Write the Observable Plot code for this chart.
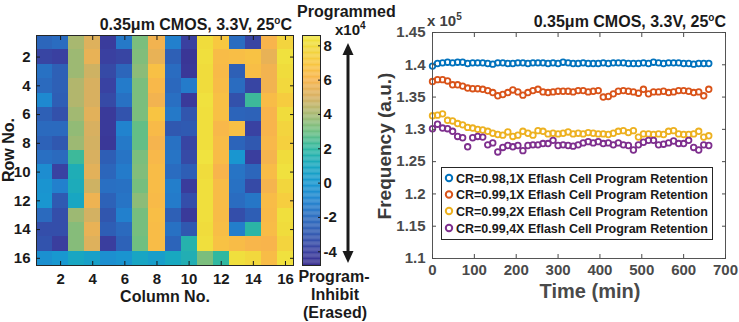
<!DOCTYPE html>
<html><head><meta charset="utf-8">
<script src="https://cdn.jsdelivr.net/npm/d3@7"></script>
<script src="https://cdn.jsdelivr.net/npm/@observablehq/plot@0.6"></script>
<style>
body{margin:0;background:#fff;}
#root{position:relative;width:739px;height:322px;overflow:hidden;background:#fff;}
#root svg{position:absolute;left:0;top:0;}
</style></head><body><div id="root"></div>
<script>
// ---------- Heatmap data ----------
const colTicks = [2, 4, 6, 8, 10, 12, 14, 16];
const rowTicks = [2, 4, 6, 8, 10, 12, 14, 16];
const colorbarTicks = [-4, -2, 0, 2, 4, 6, 8];
const colorDomain = [-4.8, 8.6]; // x10^4
const heatRows = [
  [-2.3,-2.0,4.0,5.2,-4.2,-1.5,3.2,5.8,-1.2,-4.0,8.0,7.0,-2.0,-3.8,6.0,7.6],
  [-3.8,-4.0,3.8,5.5,-4.0,-3.8,3.3,5.5,-2.6,-4.5,8.2,6.4,6.5,6.7,5.5,8.3],
  [-1.8,-2.6,3.8,4.8,-3.6,-2.3,3.5,6.6,-2.0,-4.4,8.0,6.3,-2.6,6.5,5.8,8.0],
  [-2.1,-2.6,4.2,5.0,-3.9,-1.4,3.2,6.2,-2.2,-1.4,8.0,6.4,-2.0,-3.8,5.8,7.8],
  [-0.8,-2.7,4.2,5.0,-3.6,-1.8,3.2,5.8,-1.9,-4.3,8.3,6.6,-3.3,2.2,6.4,7.2],
  [-2.6,-3.3,3.9,5.3,-4.3,-3.2,3.2,6.8,-1.5,-3.1,8.2,6.6,-2.4,-2.5,6.0,8.0],
  [-2.1,-2.1,3.6,5.0,-4.3,-1.1,2.8,6.3,-3.0,-2.9,8.2,6.2,6.6,-3.9,6.0,7.6],
  [-2.5,-3.0,3.8,4.9,-4.4,-1.5,2.8,5.9,-1.8,-3.8,8.2,6.4,-2.4,-3.0,6.2,7.4],
  [-1.9,-2.1,2.2,5.0,-2.7,-1.7,3.2,6.2,-1.7,-3.6,8.4,6.4,-0.1,-4.1,5.9,8.0],
  [-0.6,-3.9,1.3,5.3,-2.3,-1.4,3.3,6.4,-2.0,-2.7,8.0,6.0,-1.7,-2.3,6.4,8.3],
  [-0.2,-1.2,1.2,4.8,-1.9,-1.8,3.1,6.4,-1.3,-4.2,8.2,6.4,-1.8,-3.6,5.9,7.7],
  [-0.1,-2.9,0.9,5.7,-2.5,-1.7,3.5,6.3,-1.4,-3.4,8.2,6.4,-2.0,-1.6,6.4,7.3],
  [-2.1,-3.4,3.8,4.9,-3.1,-1.2,3.1,6.5,-2.6,-4.3,8.2,6.4,-3.4,-2.7,6.3,8.2],
  [-3.4,-3.4,3.4,5.5,-2.7,-2.1,3.1,6.4,-1.8,-3.0,8.0,6.5,-1.3,1.8,6.4,8.0],
  [-3.2,-4.1,3.4,5.2,-4.1,-2.5,3.0,6.4,-2.4,1.6,8.2,6.7,6.4,6.1,6.0,7.6],
  [-0.4,0.0,0.9,0.5,-0.5,-0.2,0.8,0.4,1.0,1.4,3.2,2.0,8.2,7.8,6.4,8.3]
];
// colormap stops (parula-like, as it appears in the figure)
const cmapValues = [-4.8, -4, -3, -2, -1, 0, 1, 2, 3, 4, 5, 6, 7, 8, 8.6];
const cmapColors = ["#3a3090","#3a40a0","#3058b0","#2a6cc0","#2085d0","#1898d0","#18a8c0","#30b8a0","#70bf80","#a8b870","#d8b060","#f8b44c","#f8c840","#f0dc3c","#f0e640"];

// ---------- Retention data ----------
const timeTicks = [0, 100, 200, 300, 400, 500, 600, 700];
const freqTicks = [1.1, 1.15, 1.2, 1.25, 1.3, 1.35, 1.4, 1.45];
const timeMin = [0,12,24,36,48,60,72,84,96,108,120,132,144,156,168,180,192,204,216,228,240,252,264,276,288,300,312,324,336,348,360,372,384,396,408,420,432,444,456,468,480,492,504,516,528,540,552,564,576,588,600,612,624,636,648,660];
const seriesNames = [
  "CR=0.98,1X Eflash Cell Program Retention",
  "CR=0.99,1X Eflash Cell Program Retention",
  "CR=0.99,2X Eflash Cell Program Retention",
  "CR=0.99,4X Eflash Cell Program Retention"
];
const seriesColors = ["#0072BD", "#D95319", "#EDB120", "#7E2F8E"];
const cr098x1 = [1.398,1.402,1.403,1.404,1.403,1.404,1.404,1.402,1.403,1.403,1.403,1.402,1.401,1.403,1.403,1.402,1.402,1.403,1.403,1.402,1.403,1.403,1.403,1.402,1.403,1.402,1.404,1.403,1.402,1.402,1.403,1.402,1.402,1.402,1.403,1.402,1.403,1.403,1.403,1.402,1.402,1.402,1.403,1.402,1.404,1.403,1.402,1.403,1.403,1.403,1.402,1.402,1.401,1.402,1.402,1.402];
const cr099x1 = [1.374,1.377,1.377,1.375,1.369,1.369,1.367,1.364,1.363,1.363,1.362,1.360,1.357,1.352,1.354,1.357,1.361,1.358,1.353,1.357,1.360,1.362,1.358,1.357,1.358,1.359,1.359,1.359,1.358,1.360,1.360,1.358,1.359,1.360,1.350,1.351,1.355,1.359,1.360,1.359,1.358,1.356,1.362,1.355,1.358,1.358,1.359,1.357,1.358,1.360,1.360,1.359,1.357,1.358,1.352,1.362];
const cr099x2 = [1.321,1.322,1.324,1.314,1.313,1.309,1.307,1.303,1.302,1.300,1.299,1.297,1.294,1.292,1.291,1.296,1.289,1.291,1.297,1.294,1.291,1.298,1.297,1.293,1.294,1.293,1.294,1.296,1.293,1.294,1.293,1.295,1.294,1.293,1.293,1.292,1.294,1.297,1.298,1.295,1.298,1.288,1.293,1.293,1.292,1.293,1.292,1.297,1.298,1.293,1.292,1.292,1.293,1.297,1.288,1.290];
const cr099x4 = [1.301,1.308,1.302,1.301,1.297,1.289,1.287,1.273,1.287,1.289,1.288,1.276,1.279,1.265,1.272,1.275,1.273,1.275,1.267,1.275,1.276,1.276,1.278,1.278,1.283,1.275,1.276,1.275,1.274,1.276,1.279,1.281,1.279,1.281,1.278,1.279,1.276,1.279,1.276,1.275,1.268,1.276,1.280,1.283,1.283,1.276,1.277,1.279,1.282,1.278,1.278,1.283,1.272,1.268,1.276,1.275];

// ---------- build ----------
const W = 739, H = 322;
const FONT = "'Liberation Sans', Arial, sans-serif";
const cmapScale = d3.scaleLinear().domain(cmapValues).range(cmapColors).interpolate(d3.interpolateRgb).clamp(true);
const cmap = t => cmapScale(colorDomain[0] + t * (colorDomain[1] - colorDomain[0]));
const colorOpts = {type: "linear", domain: colorDomain, interpolate: cmap};
const baseStyle = (color) => ({background: "transparent", fontFamily: FONT, fontSize: "15px", fontWeight: "bold", color, overflow: "visible"});
const plain = d => String(d);

const cells = heatRows.flatMap((r, i) => r.map((v, j) => ({row: i + 1, col: j + 1, value: v})));

const heatPlot = Plot.plot({
  width: W, height: H,
  marginLeft: 36, marginRight: W - 293, marginTop: 35, marginBottom: H - 265,
  style: baseStyle("#1a1a1a"),
  x: {domain: [0.5, 16.5]},
  y: {domain: [0.5, 16.5], reverse: true},
  color: colorOpts,
  marks: [
    Plot.rect(cells, {x1: d => d.col - 0.5, x2: d => d.col + 0.5, y1: d => d.row - 0.5, y2: d => d.row + 0.5, fill: "value", shapeRendering: "crispEdges"}),
    Plot.frame({stroke: "#262626"}),
    Plot.axisX(colTicks, {anchor: "bottom", tickSize: -4, tickPadding: 12, tickFormat: plain, label: null}),
    Plot.axisX(colTicks, {anchor: "top", tickSize: -4, tickFormat: () => "", label: null}),
    Plot.axisY(rowTicks, {anchor: "left", tickSize: -4, tickPadding: 10, tickFormat: plain, label: null}),
    Plot.axisY(rowTicks, {anchor: "right", tickSize: -4, tickFormat: () => "", label: null})
  ]
});

const cbSteps = d3.range(colorDomain[0], colorDomain[1], 0.05);
const cbPlot = Plot.plot({
  width: W, height: H,
  marginLeft: 302, marginRight: W - 320, marginTop: 35, marginBottom: H - 265,
  style: baseStyle("#1a1a1a"),
  x: {domain: [0, 1], axis: null},
  y: {domain: colorDomain},
  color: colorOpts,
  marks: [
    Plot.rect(cbSteps, {x1: 0, x2: 1, y1: d => d, y2: d => Math.min(d + 0.06, colorDomain[1]), fill: d => d}),
    Plot.frame({stroke: "#262626"}),
    Plot.axisY(colorbarTicks, {anchor: "right", tickSize: -3, tickPadding: 6, tickFormat: plain, label: null})
  ]
});

const seriesValues = [cr098x1, cr099x1, cr099x2, cr099x4];
const points = seriesValues.flatMap((vals, k) => vals.map((v, i) => ({t: timeMin[i], f: v, s: seriesNames[k]})));
const fmt = d => String(+d.toFixed(2));
const retPlot = Plot.plot({
  width: W, height: H,
  marginLeft: 432, marginRight: W - 725, marginTop: 32, marginBottom: H - 258,
  style: baseStyle("#4a4a4a"),
  x: {domain: [0, 700]},
  y: {domain: [1.1, 1.45]},
  color: {domain: seriesNames, range: seriesColors},
  marks: [
    Plot.dot(points, {x: "t", y: "f", stroke: "s", r: 2.8, strokeWidth: 1.8, fill: "none"}),
    Plot.frame({stroke: "#555"}),
    Plot.axisX(timeTicks, {anchor: "bottom", tickSize: -4, tickPadding: 10, tickFormat: plain, label: null}),
    Plot.axisX(timeTicks, {anchor: "top", tickSize: -4, tickFormat: () => "", label: null}),
    Plot.axisY(freqTicks, {anchor: "left", tickSize: -4, tickPadding: 11, tickFormat: fmt, label: null}),
    Plot.axisY(freqTicks, {anchor: "right", tickSize: -4, tickFormat: () => "", label: null})
  ]
});

const root = document.getElementById("root");
root.append(heatPlot, cbPlot, retPlot);

// ---------- annotations ----------
const ov = d3.select(root).append("svg").attr("width", W).attr("height", H)
  .style("font-family", FONT).style("font-weight", "bold");
function txt(x, y, str, size, anchor, fill) {
  return ov.append("text").attr("x", x).attr("y", y).attr("font-size", size)
    .attr("text-anchor", anchor || "start").attr("fill", fill || "#1a1a1a").text(str);
}
function titleWithDeg(xEnd, y) {
  const t = ov.append("text").attr("x", xEnd).attr("y", y).attr("font-size", 16)
    .attr("text-anchor", "end").attr("fill", "#1a1a1a");
  t.append("tspan").text("0.35μm CMOS, 3.3V, 25");
  t.append("tspan").attr("dy", -6).attr("font-size", 10).text("o");
  t.append("tspan").attr("dy", 6).text("C");
}
titleWithDeg(292, 30);
titleWithDeg(726, 27);
txt(297, 17, "Programmed", 16);
{
  const t = ov.append("text").attr("x", 335).attr("y", 35).attr("font-size", 15).attr("fill", "#1a1a1a");
  t.append("tspan").text("x10");
  t.append("tspan").attr("dy", -6).attr("font-size", 10).text("4");
}
// double-headed arrow
ov.append("line").attr("x1", 348).attr("x2", 348).attr("y1", 52).attr("y2", 253).attr("stroke", "#1a1a1a").attr("stroke-width", 3);
ov.append("path").attr("d", "M348,43 L342.5,55 L353.5,55 Z").attr("fill", "#1a1a1a");
ov.append("path").attr("d", "M348,263 L342.5,251 L353.5,251 Z").attr("fill", "#1a1a1a");
txt(334, 282, "Program-", 16, "middle");
txt(335, 300, "Inhibit", 16, "middle");
txt(335, 318, "(Erased)", 16, "middle");
txt(165, 302, "Column No.", 16, "middle");
ov.append("text").attr("transform", "translate(14,150) rotate(-90)").attr("font-size", 16)
  .attr("text-anchor", "middle").attr("fill", "#1a1a1a").text("Row No.");
{
  const t = ov.append("text").attr("x", 427).attr("y", 26).attr("font-size", 15).attr("fill", "#404040");
  t.append("tspan").text("x 10");
  t.append("tspan").attr("dy", -6).attr("font-size", 10).text("5");
}
ov.append("text").attr("transform", "translate(391,146) rotate(-90)").attr("font-size", 19)
  .attr("text-anchor", "middle").attr("fill", "#3a3a3a").text("Frequency (a.u.)");
txt(590, 298, "Time (min)", 20, "middle", "#4a4a4a");
// legend
ov.append("rect").attr("x", 441.5).attr("y", 167.5).attr("width", 271).attr("height", 72)
  .attr("fill", "#fff").attr("stroke", "#262626").attr("stroke-width", 1);
const legY = [178, 194.5, 211, 228];
seriesNames.forEach((name, k) => {
  ov.append("circle").attr("cx", 449).attr("cy", legY[k]).attr("r", 3.2).attr("fill", "none")
    .attr("stroke", seriesColors[k]).attr("stroke-width", 2);
  txt(456, legY[k] + 4.5, name, 12.5, "start", "#1a1a1a");
});
</script></body></html>
